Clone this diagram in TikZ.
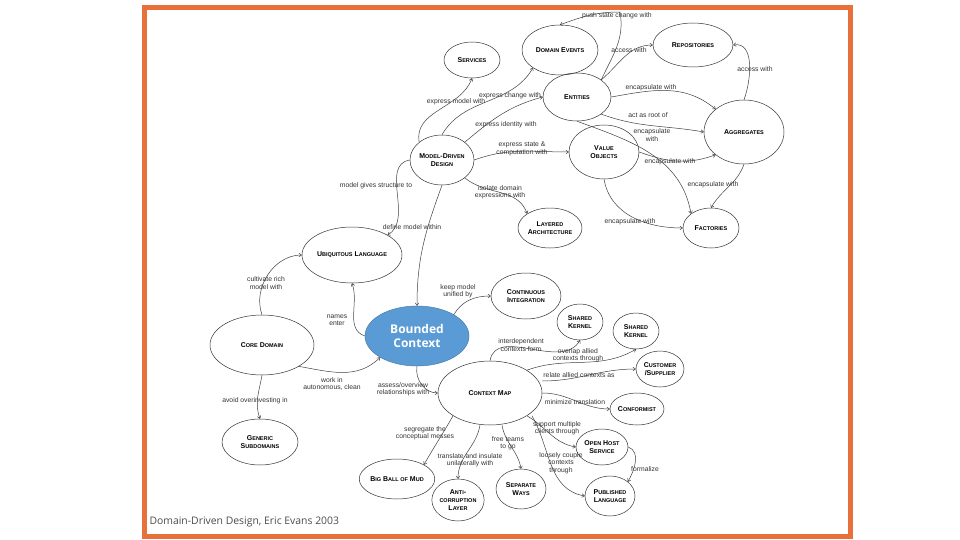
\documentclass[tikz,border=0pt]{standalone}
\usepackage{fontspec}
\setmainfont{Liberation Sans}
\newfontfamily\capfont{Open Sans}
\usetikzlibrary{shapes.geometric,arrows.meta}
\definecolor{frame}{HTML}{E8703A}
\definecolor{bc}{HTML}{5B9BD5}
\newcommand\nm[2]{#1{\fontsize{5.5}{6}\selectfont #2}}
\tikzset{
 con/.style={ellipse,draw=black!80,line width=0.5pt,inner sep=0pt,align=center,font=\fontsize{7}{7.6}\selectfont\bfseries},
 lbl/.style={font=\fontsize{6.8}{7.4}\selectfont,text=black!80,align=center,inner sep=0.5pt},
 ar/.style={draw=black!75,line width=0.5pt,-{To[length=3pt,width=4pt]}}
}
\begin{document}
\begin{tikzpicture}[x=1pt,y=-1pt]
\useasboundingbox (0,0) rectangle (960,540);
\fill[white] (0,0) rectangle (960,540);
\draw[frame,line width=5pt] (144,8) rectangle (850,536);
\node[anchor=west,font=\capfont\fontsize{10.4}{12}\selectfont,text=black!70] (cap) at (146,522) {Domain-Driven Design, Eric Evans 2003};
% nodes
\node[con,minimum width=56,minimum height=36] (srv) at (472,60) {\nm{S}{ERVICES}};
\node[con,minimum width=76,minimum height=50] (de) at (560,50) {\nm{D}{OMAIN} \nm{E}{VENTS}};
\node[con,minimum width=80,minimum height=44] (rep) at (693,45) {\nm{R}{EPOSITORIES}};
\node[con,minimum width=68,minimum height=48] (ent) at (577,97) {\nm{E}{NTITIES}};
\node[con,minimum width=80,minimum height=64] (agg) at (744,132) {\nm{A}{GGREGATES}};
\node[con,minimum width=60,minimum height=50] (mdd) at (442,160) {\nm{M}{ODEL}-\nm{D}{RIVEN}\\\nm{D}{ESIGN}};
\node[con,minimum width=70,minimum height=54] (vo) at (604,152) {\nm{V}{ALUE}\\\nm{O}{BJECTS}};
\node[con,minimum width=56,minimum height=40] (fac) at (711,228) {\nm{F}{ACTORIES}};
\node[con,minimum width=64,minimum height=40] (la) at (550,228) {\nm{L}{AYERED}\\\nm{A}{RCHITECTURE}};
\node[con,minimum width=100,minimum height=56] (ul) at (352,255) {\nm{U}{BIQUITOUS} \nm{L}{ANGUAGE}};
\node[con,minimum width=70,minimum height=46] (ci) at (526,296) {\nm{C}{ONTINUOUS}\\\nm{I}{NTEGRATION}};
\node[ellipse,fill=bc,draw=bc!80!black,line width=0.5pt,minimum width=104,minimum height=60,inner sep=0pt,align=center,text=white,font=\capfont\bfseries\fontsize{12}{14}\selectfont] (bc) at (417,336) {Bounded\\Context};
\node[con,minimum width=104,minimum height=60] (cd) at (262,345) {\nm{C}{ORE} \nm{D}{OMAIN}};
\node[con,minimum width=46,minimum height=36] (sk1) at (580,322) {\nm{S}{HARED}\\\nm{K}{ERNEL}};
\node[con,minimum width=46,minimum height=36] (sk2) at (636,331) {\nm{S}{HARED}\\\nm{K}{ERNEL}};
\node[con,minimum width=48,minimum height=36] (cs) at (660,369) {\nm{C}{USTOMER}\\/\nm{S}{UPPLIER}};
\node[con,minimum width=104,minimum height=64] (cm) at (490,393) {\nm{C}{ONTEXT} \nm{M}{AP}};
\node[con,minimum width=54,minimum height=32] (cf) at (637,409) {\nm{C}{ONFORMIST}};
\node[con,minimum width=76,minimum height=46] (gs) at (260,442) {\nm{G}{ENERIC}\\\nm{S}{UBDOMAINS}};
\node[con,minimum width=52,minimum height=36] (ohs) at (602,447) {\nm{O}{PEN} \nm{H}{OST}\\\nm{S}{ERVICE}};
\node[con,minimum width=72,minimum height=40] (bbm) at (397,479) {\nm{B}{IG} \nm{B}{ALL OF} \nm{M}{UD}};
\node[con,minimum width=52,minimum height=42] (acl) at (458,500) {\nm{A}{NTI}-\\\nm{}{CORRUPTION}\\\nm{L}{AYER}};
\node[con,minimum width=50,minimum height=40] (sw) at (521,489) {\nm{S}{EPARATE}\\\nm{W}{AYS}};
\node[con,minimum width=50,minimum height=40] (pl) at (610,496) {\nm{P}{UBLISHED}\\\nm{L}{ANGUAGE}};
% labels
\node[lbl] (l1) at (456,102) {express model with};
\node[lbl] (l2) at (510,96) {express change with};
\node[lbl] (l3) at (506,125) {express identity with};
\node[lbl] (l4) at (522,149) {express state \&\\computation with};
\node[lbl] (l5) at (500,192) {isolate domain\\expressions with};
\node[lbl] (l6) at (376,186) {model gives structure to};
\node[lbl] (l7) at (412,227) {define model within};
\node[lbl] (l8) at (617,16) {push state change with};
\node[lbl] (l9) at (629,50) {access with};
\node[lbl] (l10) at (651,88) {encapsulate with};
\node[lbl] (l11) at (648,115) {act as root of};
\node[lbl] (l12) at (652,135) {encapsulate\\with};
\node[lbl] (l13) at (755,69) {access with};
\node[lbl] (l14) at (670,162) {encapsulate with};
\node[lbl] (l15) at (713,185) {encapsulate with};
\node[lbl] (l16) at (630,222) {encapsulate with};
\node[lbl] (l17) at (266,283) {cultivate rich\\model with};
\node[lbl] (l18) at (337,320) {names\\enter};
\node[lbl] (l19) at (332,384) {work in\\autonomous, clean};
\node[lbl] (l20) at (255,401) {avoid overinvesting in};
\node[lbl] (l21) at (458,291) {keep model\\unified by};
\node[lbl] (l22) at (403,389) {assess/overview\\relationships with};
\node[lbl] (l23) at (521,345) {interdependent\\contexts form};
\node[lbl] (l24) at (578,355) {overlap allied\\contexts through};
\node[lbl] (l25) at (579,375) {relate allied contexts as};
\node[lbl] (l26) at (575,402) {minimize translation};
\node[lbl] (l27) at (557,428) {support multiple\\clients through};
\node[lbl] (l28) at (425,433) {segregate the\\conceptual messes};
\node[lbl] (l29) at (470,460) {translate and insulate\\unilaterally with};
\node[lbl] (l30) at (508,443) {free teams\\to go};
\node[lbl] (l31) at (561,463) {loosely couple\\contexts\\through};
\node[lbl] (l32) at (645,469) {formalize};
\coordinate (top) at (620,12);
% edges
\draw[ar] (mdd.north west) to[out=100,in=-110] (srv.south);
\draw[ar] (mdd.north) to[out=60,in=-120] (de.south west);
\draw[ar] (mdd.north east) to[out=40,in=-165] (ent.west);
\draw[ar] (mdd.east) to[out=20,in=180] (vo.west);
\draw[ar] (mdd.south east) to[out=-40,in=110] (la.north west);
\draw[ar] (mdd.west) to[out=190,in=30] (ul.north east);
\draw[ar] (mdd.south) to[out=-110,in=90] (bc.north);
\draw[ar] (ent.north east) to[out=65,in=-80] (top) to[out=180,in=20] (de.north);
\draw[ar] (ent.north east) to[out=40,in=180] (rep.west);
\draw[ar] (ent.east) to[out=10,in=140] (agg.north west);
\draw[ar] (ent.south east) to[out=-20,in=170] (agg.west);
\draw[ar] (ent.south) to[out=-20,in=100] (fac.north west);
\draw[ar] (agg.north) to[out=70,in=10] (rep.east);
\draw[ar] (vo.east) to[out=-20,in=-160] (agg.south west);
\draw[ar] (agg.south) to[out=-110,in=60] (fac.north);
\draw[ar] (vo.south) to[out=-80,in=180] (fac.west);
\draw[ar] (cd.north) to[out=110,in=180] (ul.west);
\draw[ar] (bc.west) to[out=160,in=-70] (ul.south);
\draw[ar] (cd.south east) to[out=-10,in=-135] (bc.south west);
\draw[ar] (cd.south) to[out=-100,in=110] (gs.north);
\draw[ar] (bc.north east) to[out=60,in=180] (ci.west);
\draw[ar] (bc.south) to[out=-100,in=180] (cm.west);
\draw[ar] (cm.north) to[out=80,in=-120] (sk1.south);
\draw[ar] (cm.north east) to[out=20,in=-150] (sk2.south);
\draw[ar] (cm.east) ++(0,-12) to[out=0,in=180] (cs.west);
\draw[ar] (cm.east) to[out=0,in=180] (cf.west);
\draw[ar] (cm.south east) to[out=-30,in=170] (ohs.west);
\draw[ar] (cm.south west) to[out=-120,in=60] (bbm.north east);
\draw[ar] (cm.south) ++(-10,0) to[out=-100,in=90] (acl.north);
\draw[ar] (cm.south) ++(12,0) to[out=-80,in=100] (sw.north);
\draw[ar] (cm.south east) ++(5,0) to[out=-60,in=170] (pl.west);
\draw[ar] (ohs.east) to[out=-20,in=60] (pl.north east);
\end{tikzpicture}
\end{document}
